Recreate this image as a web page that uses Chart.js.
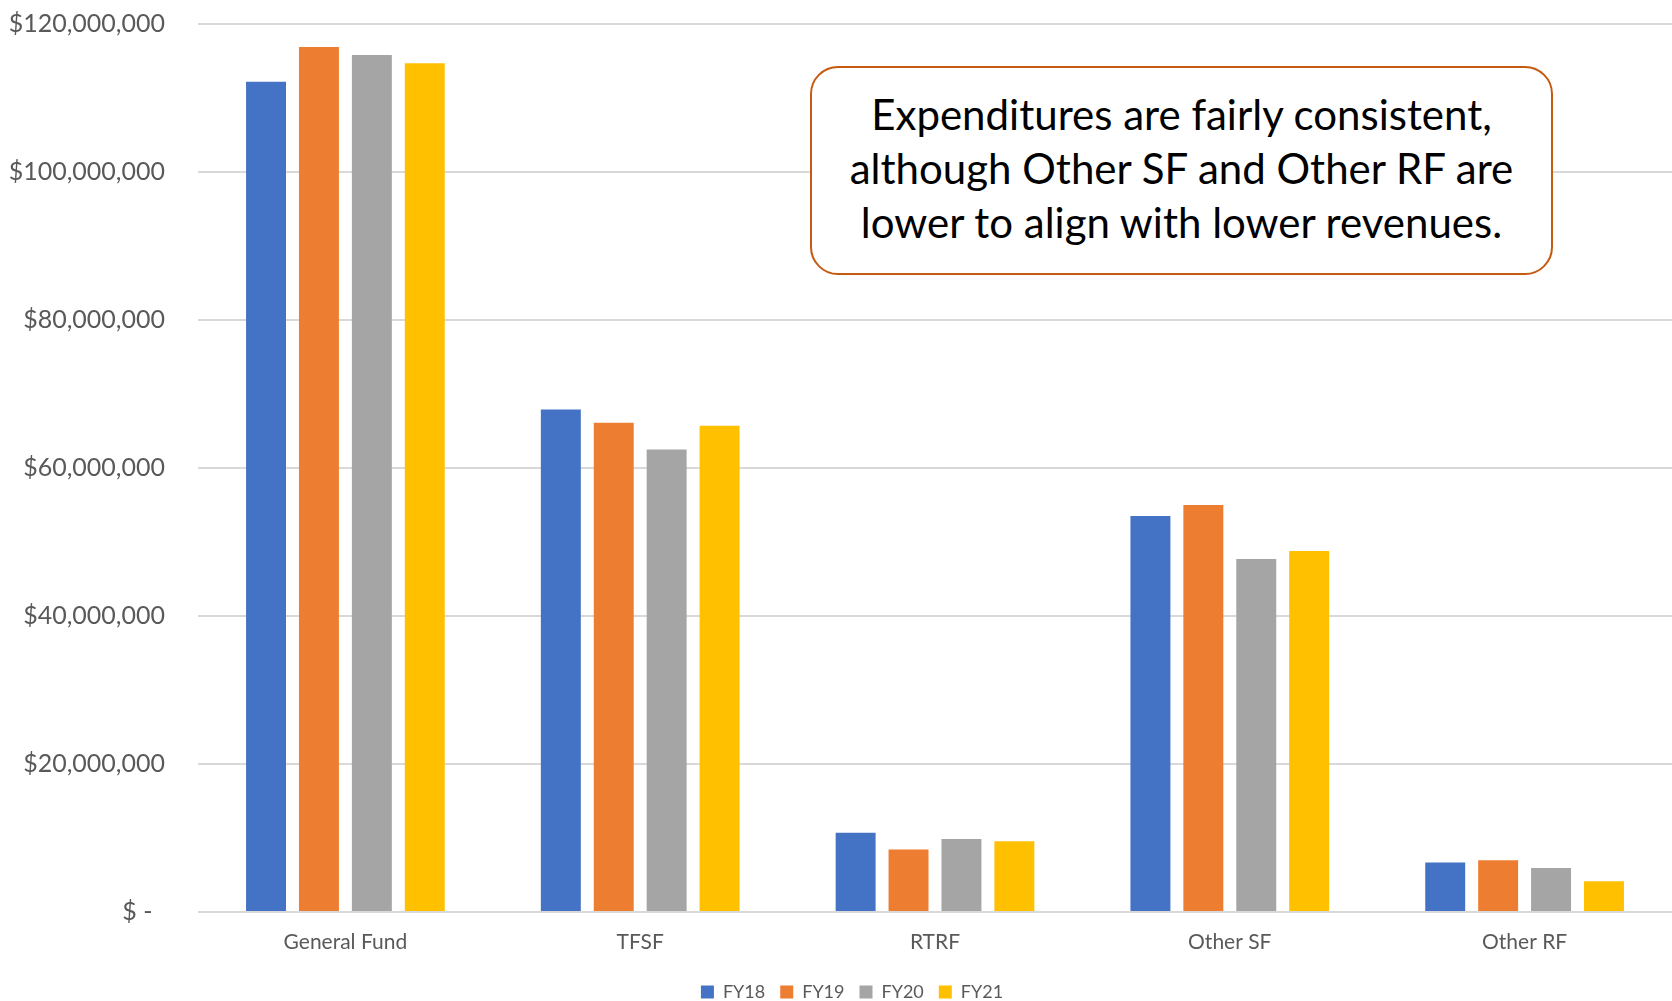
<!DOCTYPE html>
<html>
<head>
<meta charset="utf-8">
<script src="https://cdn.jsdelivr.net/npm/chart.js@4.4.1/dist/chart.umd.min.js"></script>
<style>
  html, body { margin: 0; padding: 0; background: #ffffff; }
  #wrap { position: relative; width: 1672px; height: 1001px; overflow: hidden; }
  #note {
    position: absolute; left: 810px; top: 66px; width: 739px; height: 205px;
    border: 2.5px solid #C55A11; border-radius: 28px; background: #ffffff;
    font-family: Lato, "Open Sans", sans-serif; font-size: 42px; line-height: 54px;
    color: #000000; text-align: center; display: flex; align-items: center; justify-content: center;
    box-sizing: content-box; padding-bottom: 0;
  }
  #note > div { position: relative; top: -3px; }
</style>
</head>
<body>
<div id="wrap">
  <canvas id="c" width="1672" height="1001"></canvas>
  <div id="note"><div>Expenditures are fairly consistent,<br>although Other SF and Other RF are<br>lower to align with lower revenues.</div></div>
</div>
<script>
const categories = ["General Fund", "TFSF", "RTRF", "Other SF", "Other RF"];
const seriesNames = ["FY18", "FY19", "FY20", "FY21"];
const fy18 = [112200000, 67900000, 10700000, 53500000, 6700000];
const fy19 = [116900000, 66100000, 8450000, 55000000, 7000000];
const fy20 = [115800000, 62500000, 9850000, 47700000, 5950000];
const fy21 = [114700000, 65700000, 9550000, 48800000, 4150000];
const seriesColors = ["#4472C4", "#ED7D31", "#A5A5A5", "#FFC000"];
const yTicks = [0, 20000000, 40000000, 60000000, 80000000, 100000000, 120000000];

const allSeries = [fy18, fy19, fy20, fy21];
const FONT = 'Lato, "Open Sans", sans-serif';

const legendShift = {
  id: 'legendShift',
  afterLayout(chart) {
    if (chart.legend) { chart.legend.left += 14; chart.legend.right += 14; }
  }
};

new Chart(document.getElementById('c'), {
  type: 'bar',
  data: {
    labels: categories,
    datasets: allSeries.map((d, i) => ({
      label: seriesNames[i],
      data: d,
      backgroundColor: seriesColors[i],
      borderWidth: 0,
      categoryPercentage: 0.718,
      barPercentage: 0.755
    }))
  },
  plugins: [legendShift],
  options: {
    responsive: false,
    devicePixelRatio: 1,
    animation: false,
    layout: { padding: { top: 24, right: -4, left: 0, bottom: -10 } },
    plugins: {
      tooltip: { enabled: false },
      legend: {
        position: 'bottom',
        labels: {
          font: { family: FONT, size: 18 },
          color: '#595959',
          boxWidth: 13,
          boxHeight: 13,
          padding: 15
        }
      }
    },
    scales: {
      x: {
        afterFit(scale) { scale.height = 56; },
        grid: { display: false, drawTicks: false },
        border: { display: false },
        ticks: { font: { family: FONT, size: 21 }, color: '#595959', padding: 18 }
      },
      y: {
        min: 0,
        max: 120000000,
        afterFit(scale) { scale.width = 198; scale.paddingTop = 0; scale.paddingBottom = 0; },
        afterBuildTicks(scale) { scale.ticks = yTicks.map(v => ({ value: v })); },
        grid: { color: '#D9D9D9', lineWidth: 2, drawTicks: false },
        border: { display: false },
        ticks: {
          font: { family: FONT, size: 25 },
          color: '#595959',
          padding: 33,
          callback: (v) => v === 0 ? '$ -\u2002' : '$' + Number(v).toLocaleString('en-US')
        }
      }
    }
  }
});
</script>
</body>
</html>
